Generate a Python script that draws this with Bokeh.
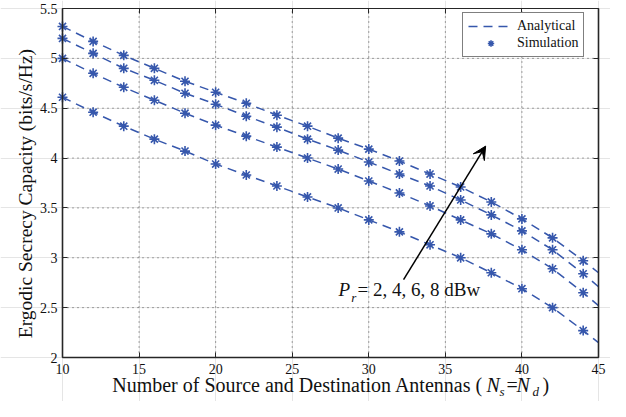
import math
from bokeh.plotting import figure
from bokeh.models import (Range1d, FixedTicker, LinearAxis, Legend, LegendItem,
                          Label, Arrow, VeeHead, CustomJSTickFormatter)
from bokeh.embed import file_html
from bokeh.resources import INLINE

# ---------------- data ----------------
x_sim = [10, 12, 14, 16, 18, 20, 22, 24, 26, 28, 30, 32, 34, 36, 38, 40, 42, 44]
sim_pr8 = [5.32, 5.17, 5.03, 4.90, 4.77, 4.66, 4.55, 4.43, 4.32, 4.20, 4.09, 3.97, 3.84, 3.71, 3.56, 3.39, 3.20, 2.97]
sim_pr6 = [5.20, 5.05, 4.90, 4.78, 4.65, 4.54, 4.42, 4.31, 4.19, 4.08, 3.96, 3.84, 3.72, 3.58, 3.43, 3.27, 3.08, 2.84]
sim_pr4 = [5.00, 4.85, 4.71, 4.58, 4.45, 4.33, 4.22, 4.11, 4.00, 3.89, 3.77, 3.65, 3.52, 3.38, 3.24, 3.08, 2.89, 2.65]
sim_pr2 = [4.61, 4.46, 4.32, 4.19, 4.07, 3.94, 3.83, 3.72, 3.61, 3.50, 3.38, 3.26, 3.13, 3.00, 2.85, 2.69, 2.50, 2.27]

x_ana = [10, 12, 14, 16, 18, 20, 22, 24, 26, 28, 30, 32, 34, 36, 38, 40, 42, 44, 45]
ana_pr8 = [5.32, 5.17, 5.03, 4.90, 4.77, 4.66, 4.55, 4.43, 4.32, 4.20, 4.09, 3.97, 3.84, 3.71, 3.56, 3.39, 3.20, 2.97, 2.85]
ana_pr6 = [5.20, 5.05, 4.90, 4.78, 4.65, 4.54, 4.42, 4.31, 4.19, 4.08, 3.96, 3.84, 3.72, 3.58, 3.43, 3.27, 3.08, 2.84, 2.71]
ana_pr4 = [5.00, 4.85, 4.71, 4.58, 4.45, 4.33, 4.22, 4.11, 4.00, 3.89, 3.77, 3.65, 3.52, 3.38, 3.24, 3.08, 2.89, 2.65, 2.52]
ana_pr2 = [4.61, 4.46, 4.32, 4.19, 4.07, 3.94, 3.83, 3.72, 3.61, 3.50, 3.38, 3.26, 3.13, 3.00, 2.85, 2.69, 2.50, 2.27, 2.15]

x_ticks = [10, 15, 20, 25, 30, 35, 40, 45]
x_tick_labels = ["10", "15", "20", "25", "30", "35", "40", "45"]
y_ticks = [2, 2.5, 3, 3.5, 4, 4.5, 5, 5.5]
y_tick_labels = ["2", "2.5", "3", "3.5", "4", "4.5", "5", "5.5"]

legend_labels = ["Analytical", "Simulation"]
y_label_text = "Ergodic Secrecy Capacity (bits/s/Hz)"
x_label_main = "Number of Source and Destination Antennas ("
annot_text = "= 2, 4, 6, 8 dBw"

# ---------------- layout / style ----------------
W, H = 610, 401
FR_L, FR_R, FR_T, FR_B = 62, 598, 8, 357   # axes box in pixels
XMIN, XMAX = x_ticks[0], x_ticks[-1]
YMIN, YMAX = y_ticks[0], y_ticks[-1]
kx = (XMAX - XMIN) / (FR_R - FR_L)
ky = (YMAX - YMIN) / (FR_B - FR_T)
LIFT = 7 * ky   # labels with alphabetic baseline render a few px low


def px_x(px):
    return XMIN + (px - FR_L) * kx


def px_y(py):
    return YMAX - (py - FR_T) * ky


BLUE = "#3657ac"
FONT = "Liberation Serif"
AXC = "#262626"
TXT = "#111111"

p = figure(width=W, height=H, output_backend="svg", toolbar_location=None,
           x_range=Range1d(px_x(0), px_x(W)),
           y_range=Range1d(px_y(H), px_y(0)),
           x_axis_location=None, y_axis_location=None, min_border=0)
p.background_fill_color = "white"
p.border_fill_color = "white"
p.outline_line_color = None

# grid (dotted), spanning only the axes box
gx = x_ticks[1:-1]
gy = y_ticks[1:-1]
p.segment(x0=gx, y0=[YMIN] * len(gx), x1=gx, y1=[YMAX] * len(gx),
          line_color="#333333", line_alpha=0.85, line_width=1, line_dash="1 4")
p.segment(x0=[XMIN] * len(gy), y0=gy, x1=[XMAX] * len(gy), y1=gy,
          line_color="#333333", line_alpha=0.85, line_width=1, line_dash="1 4")

blank = CustomJSTickFormatter(code="return ''")


def make_axis(ticks, labels, loc, bounds, show_labels, lw):
    ax = LinearAxis(fixed_location=loc, bounds=bounds, ticker=FixedTicker(ticks=ticks),
                    major_tick_in=5, major_tick_out=0, minor_tick_line_color=None,
                    axis_line_color=AXC, axis_line_width=lw, major_tick_line_color=AXC)
    if show_labels:
        ax.major_label_overrides = {t: l for t, l in zip(ticks, labels)}
        ax.major_label_text_font = FONT
        ax.major_label_text_font_size = "14px"
        ax.major_label_text_color = TXT
    else:
        ax.formatter = blank
        ax.major_label_text_font_size = "0px"
        ax.major_label_standoff = 0
    return ax


bottom_ax = make_axis(x_ticks, x_tick_labels, YMIN, (XMIN, XMAX), True, 1.6)
bottom_ax.major_label_standoff = 6
left_ax = make_axis(y_ticks, y_tick_labels, XMIN, (YMIN, YMAX), True, 1.6)
left_ax.major_label_standoff = 5
top_ax = make_axis(x_ticks, x_tick_labels, YMAX, (XMIN, XMAX), False, 1.1)
right_ax = make_axis(y_ticks, y_tick_labels, XMAX, (YMIN, YMAX), False, 1.6)
p.add_layout(bottom_ax, "below")
p.add_layout(left_ax, "left")
p.add_layout(top_ax, "above")
p.add_layout(right_ax, "right")

# series
line_rs = []
scat_rs = []
for ya, ys in ((ana_pr8, sim_pr8), (ana_pr6, sim_pr6), (ana_pr4, sim_pr4), (ana_pr2, sim_pr2)):
    lr = p.line(x_ana, ya, line_color=BLUE, line_width=1.5, line_dash="9 6")
    sr = p.scatter(x_sim, ys, marker="asterisk", size=10, line_color=BLUE, line_width=1.6)
    line_rs.append(lr)
    scat_rs.append(sr)

legend = Legend(items=[LegendItem(label=legend_labels[0], renderers=[line_rs[0]]),
                       LegendItem(label=legend_labels[1], renderers=[scat_rs[0]])],
                location=(462, H - 57), margin=0, padding=5, spacing=1,
                glyph_width=45, glyph_height=16, label_height=16, label_standoff=4,
                label_text_font=FONT, label_text_font_size="14px", label_text_color=TXT,
                border_line_color="black", border_line_width=1,
                background_fill_color="white", background_fill_alpha=1)
p.add_layout(legend)

# arrow + annotation
p.add_layout(Arrow(end=VeeHead(size=13, fill_color="black", line_color="black"),
                   x_start=32.27, y_start=2.78, x_end=37.63, y_end=4.12,
                   line_color="black", line_width=1.5))


def txt(x, y, s, size, italic=False, **kw):
    p.add_layout(Label(x=x, y=y, text=s, text_font=FONT, text_font_size=size,
                       text_font_style="italic" if italic else "normal",
                       text_color=TXT, text_baseline=kw.pop("baseline", "alphabetic"),
                       **kw))


txt(28.03, 2.614 + LIFT, "P", "19px", italic=True)
txt(28.85, 2.530 + LIFT, "r", "13px", italic=True)
txt(29.27, 2.614 + LIFT, annot_text, "19px")

# y axis label (rotated)
txt(px_x(25), 3.644, y_label_text, "19.5px", angle=math.pi / 2,
    text_align="center", baseline="middle")

# x axis label pieces
XB = px_y(391) + LIFT
XS = px_y(398) + LIFT
txt(px_x(111.7), XB, x_label_main, "20px")
txt(px_x(486), XB, "N", "20px", italic=True)
txt(px_x(499), XS, "s", "13px", italic=True)
txt(px_x(506), XB, "=", "20px")
txt(px_x(516), XB, "N", "20px", italic=True)
txt(px_x(532), XS, "d", "13px", italic=True)
txt(px_x(542), XB, ")", "20px")

open("out.html", "w").write(file_html(p, INLINE))
